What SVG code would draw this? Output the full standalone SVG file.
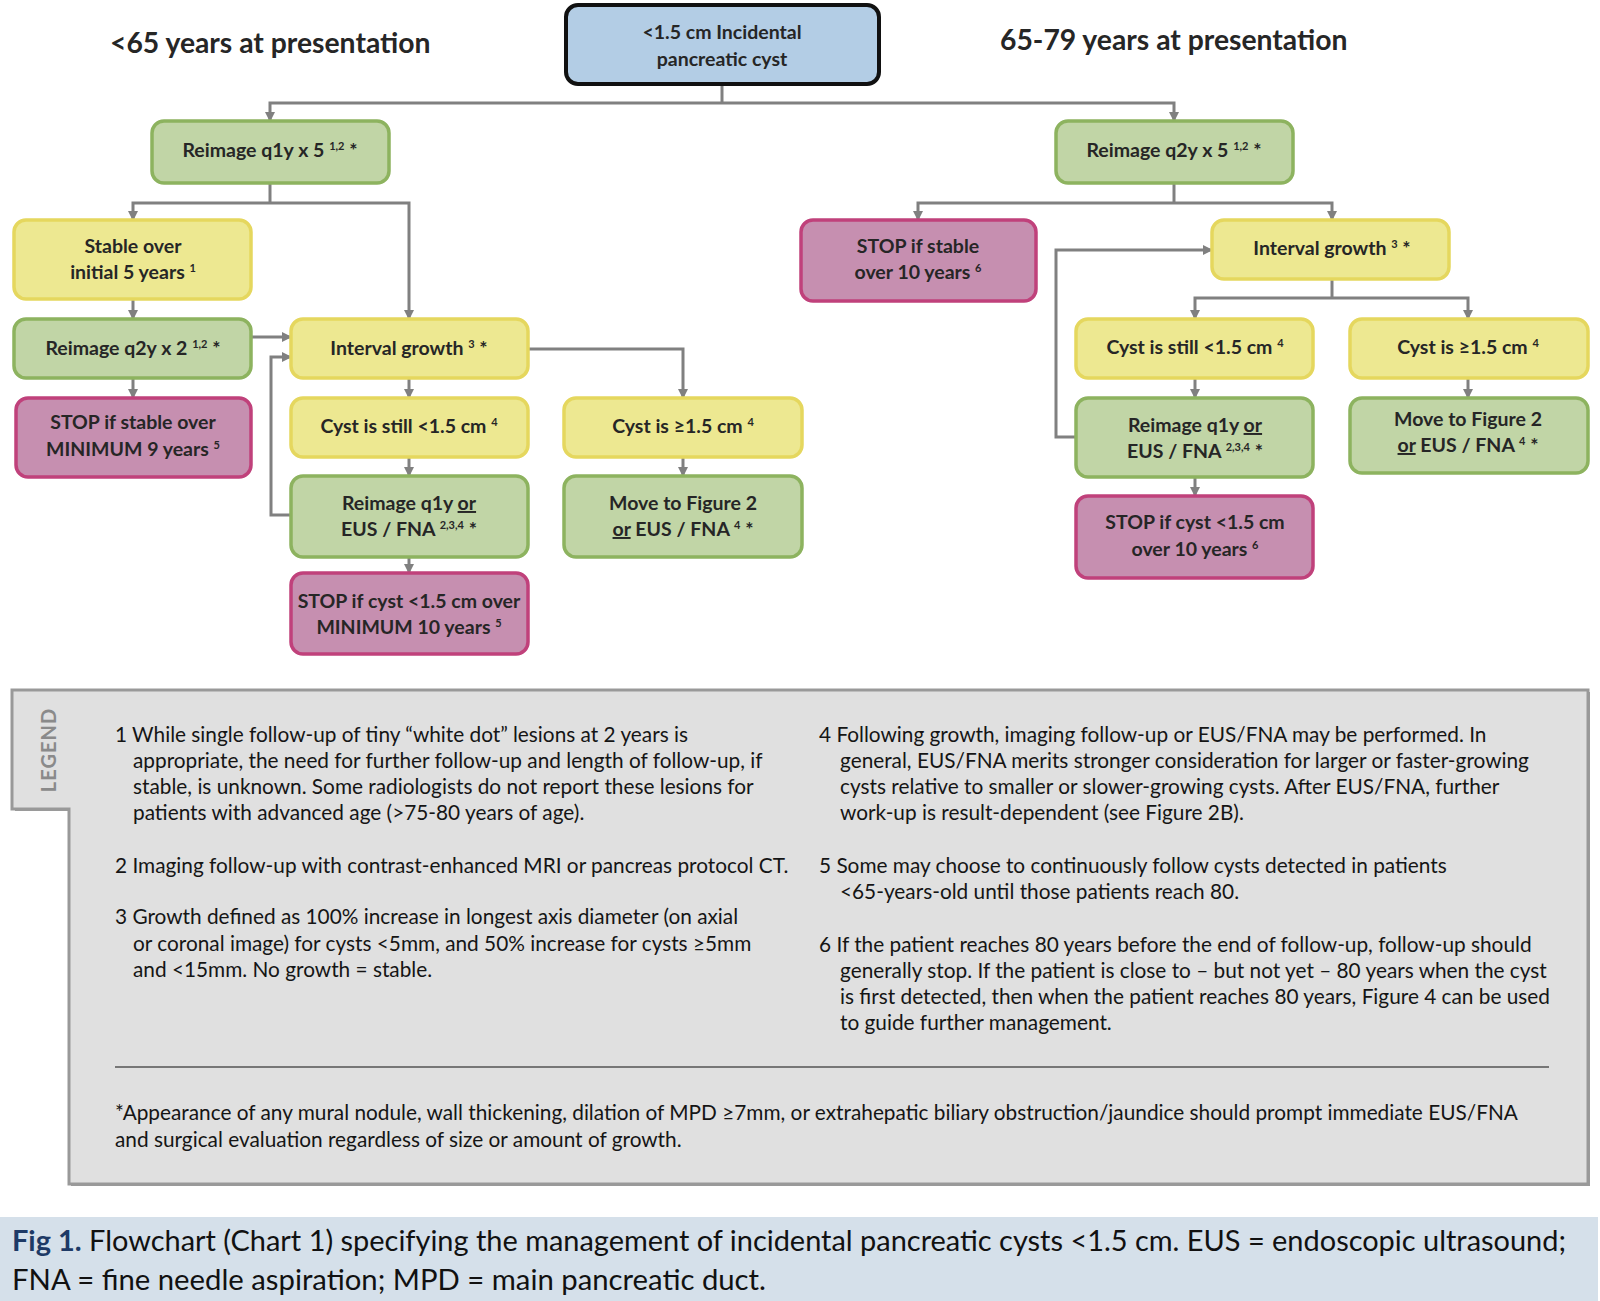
<svg xmlns="http://www.w3.org/2000/svg" width="1600" height="1301" viewBox="0 0 1600 1301">
<defs>
<marker id="arr" viewBox="0 0 10 10" refX="9" refY="5" markerWidth="10" markerHeight="10" markerUnits="userSpaceOnUse" orient="auto">
<path d="M0,0 L10,5 L0,10 z" fill="#808080"/>
</marker>
<style>
.n text{font-family:Lato,"Liberation Sans",sans-serif;font-weight:bold;font-size:19.5px;fill:#262626;text-anchor:middle}
.g rect{fill:#c1d5a6;stroke:#8db35f;stroke-width:3.5}
.y rect{fill:#ede891;stroke:#e5d75e;stroke-width:3.5}
.p rect{fill:#c68fb0;stroke:#c0417b;stroke-width:3.5}
.b rect{fill:#b3cde5;stroke:#111;stroke-width:4}
.sup{font-size:11px}
.title{font-family:Lato,"Liberation Sans",sans-serif;font-weight:bold;font-size:28.3px;fill:#262626}
.c path{fill:none;stroke:#808080;stroke-width:3}
.lg{font-family:Lato,"Liberation Sans",sans-serif;font-size:20.8px;fill:#151515}
.cap{font-family:Lato,"Liberation Sans",sans-serif;font-size:29px;fill:#111}
</style>
</defs>
<rect width="1600" height="1301" fill="#fff"/>

<text class="title" x="110" y="53">&lt;65 years at presentation</text>
<text class="title" x="1000" y="50">65-79 years at presentation</text>

<g class="c" id="connectors">
<path d="M722,84 V103"/>
<path d="M722,103 H270 V121" marker-end="url(#arr)"/>
<path d="M722,103 H1174 V121" marker-end="url(#arr)"/>
<path d="M270,183 V203"/>
<path d="M270,203 H133 V220" marker-end="url(#arr)"/>
<path d="M270,203 H409 V319" marker-end="url(#arr)"/>
<path d="M133,299 V319" marker-end="url(#arr)"/>
<path d="M133,378 V398" marker-end="url(#arr)"/>
<path d="M251,337 H291" marker-end="url(#arr)"/>
<path d="M291,515 H271 V357 H291" marker-end="url(#arr)"/>
<path d="M528,349 H683 V398" marker-end="url(#arr)"/>
<path d="M409,378 V398" marker-end="url(#arr)"/>
<path d="M409,457 V476" marker-end="url(#arr)"/>
<path d="M409,557 V573" marker-end="url(#arr)"/>
<path d="M683,457 V476" marker-end="url(#arr)"/>
<path d="M1174,183 V203"/>
<path d="M1174,203 H918 V220" marker-end="url(#arr)"/>
<path d="M1174,203 H1332 V220" marker-end="url(#arr)"/>
<path d="M1332,279 V298"/>
<path d="M1332,298 H1195 V319" marker-end="url(#arr)"/>
<path d="M1332,298 H1468 V319" marker-end="url(#arr)"/>
<path d="M1195,378 V398" marker-end="url(#arr)"/>
<path d="M1195,477 V496" marker-end="url(#arr)"/>
<path d="M1468,378 V398" marker-end="url(#arr)"/>
<path d="M1076,437 H1056 V250 H1212" marker-end="url(#arr)"/>
</g>

<g id="start" class="n b">
<rect x="566" y="5" width="313" height="79" rx="12"/>
<text x="722" y="39">&lt;1.5 cm Incidental</text>
<text x="722" y="66">pancreatic cyst</text>
</g>

<g id="reimage-q1y-x5" class="n g">
<rect x="152" y="121" width="237" height="62" rx="12"/>
<text x="270" y="157">Reimage q1y x 5 <tspan class="sup" dy="-7">1,2</tspan><tspan dy="7"> *</tspan></text>
</g>
<g id="reimage-q2y-x5" class="n g">
<rect x="1056" y="121" width="237" height="62" rx="12"/>
<text x="1174" y="157">Reimage q2y x 5 <tspan class="sup" dy="-7">1,2</tspan><tspan dy="7"> *</tspan></text>
</g>

<g id="stable-5y" class="n y">
<rect x="14" y="220" width="237" height="79" rx="12"/>
<text x="133" y="253">Stable over</text>
<text x="133" y="279">initial 5 years <tspan class="sup" dy="-7">1</tspan></text>
</g>
<g id="reimage-q2y-x2" class="n g">
<rect x="14" y="319" width="237" height="59" rx="12"/>
<text x="133" y="355">Reimage q2y x 2 <tspan class="sup" dy="-7">1,2</tspan><tspan dy="7"> *</tspan></text>
</g>
<g id="stop-9y" class="n p">
<rect x="16" y="398" width="235" height="79" rx="12"/>
<text x="133" y="429">STOP if stable over</text>
<text x="133" y="456">MINIMUM 9 years <tspan class="sup" dy="-7">5</tspan></text>
</g>
<g id="growth-left" class="n y">
<rect x="291" y="319" width="237" height="59" rx="12"/>
<text x="409" y="355">Interval growth <tspan class="sup" dy="-7">3</tspan><tspan dy="7"> *</tspan></text>
</g>
<g id="still-left" class="n y">
<rect x="291" y="398" width="237" height="59" rx="12"/>
<text x="409" y="433">Cyst is still &lt;1.5 cm <tspan class="sup" dy="-7">4</tspan></text>
</g>
<g id="ge-left" class="n y">
<rect x="564" y="398" width="238" height="59" rx="12"/>
<text x="683" y="433">Cyst is ≥1.5 cm <tspan class="sup" dy="-7">4</tspan></text>
</g>
<g id="reimage-eus-left" class="n g">
<rect x="291" y="476" width="237" height="81" rx="12"/>
<text x="409" y="510">Reimage q1y <tspan text-decoration="underline">or</tspan></text>
<text x="409" y="536">EUS / FNA <tspan class="sup" dy="-7">2,3,4</tspan><tspan dy="7"> *</tspan></text>
</g>
<g id="move-left" class="n g">
<rect x="564" y="476" width="238" height="81" rx="12"/>
<text x="683" y="510">Move to Figure 2</text>
<text x="683" y="536"><tspan text-decoration="underline">or</tspan> EUS / FNA <tspan class="sup" dy="-7">4</tspan><tspan dy="7"> *</tspan></text>
</g>
<g id="stop-10y-left" class="n p">
<rect x="291" y="573" width="237" height="81" rx="12"/>
<text x="409" y="608">STOP if cyst &lt;1.5 cm over</text>
<text x="409" y="634">MINIMUM 10 years <tspan class="sup" dy="-7">5</tspan></text>
</g>

<g id="stop-stable-right" class="n p">
<rect x="801" y="220" width="235" height="81" rx="12"/>
<text x="918" y="253">STOP if stable</text>
<text x="918" y="279">over 10 years <tspan class="sup" dy="-7">6</tspan></text>
</g>
<g id="growth-right" class="n y">
<rect x="1212" y="220" width="237" height="59" rx="12"/>
<text x="1332" y="255">Interval growth <tspan class="sup" dy="-7">3</tspan><tspan dy="7"> *</tspan></text>
</g>
<g id="still-right" class="n y">
<rect x="1076" y="319" width="237" height="59" rx="12"/>
<text x="1195" y="354">Cyst is still &lt;1.5 cm <tspan class="sup" dy="-7">4</tspan></text>
</g>
<g id="ge-right" class="n y">
<rect x="1350" y="319" width="238" height="59" rx="12"/>
<text x="1468" y="354">Cyst is ≥1.5 cm <tspan class="sup" dy="-7">4</tspan></text>
</g>
<g id="reimage-eus-right" class="n g">
<rect x="1076" y="398" width="237" height="79" rx="12"/>
<text x="1195" y="432">Reimage q1y <tspan text-decoration="underline">or</tspan></text>
<text x="1195" y="458">EUS / FNA <tspan class="sup" dy="-7">2,3,4</tspan><tspan dy="7"> *</tspan></text>
</g>
<g id="move-right" class="n g">
<rect x="1350" y="398" width="238" height="75" rx="12"/>
<text x="1468" y="426">Move to Figure 2</text>
<text x="1468" y="452"><tspan text-decoration="underline">or</tspan> EUS / FNA <tspan class="sup" dy="-7">4</tspan><tspan dy="7"> *</tspan></text>
</g>
<g id="stop-10y-right" class="n p">
<rect x="1076" y="496" width="237" height="82" rx="12"/>
<text x="1195" y="529">STOP if cyst &lt;1.5 cm</text>
<text x="1195" y="556">over 10 years <tspan class="sup" dy="-7">6</tspan></text>
</g>

<g id="legend">
<path d="M15,692 H1590 V1186 H71 V811 H15 Z" fill="#9a9a9a"/>
<path d="M12,690 H1588 V1184 H69 V809 H12 Z" fill="#e0e0e0" stroke="#999" stroke-width="3"/>
<text x="56" y="750" transform="rotate(-90 56 750)" text-anchor="middle" font-family="Lato,'Liberation Sans',sans-serif" font-size="20" font-weight="bold" fill="#8a8a8a" letter-spacing="1">LEGEND</text>
<text class="lg" x="115" y="742">1 While single follow-up of tiny “white dot” lesions at 2 years is</text>
<text class="lg" x="133" y="768">appropriate, the need for further follow-up and length of follow-up, if</text>
<text class="lg" x="133" y="794">stable, is unknown.  Some radiologists do not report these lesions for</text>
<text class="lg" x="133" y="820">patients with advanced age (&gt;75-80 years of age).</text>
<text class="lg" x="115" y="873">2 Imaging follow-up with contrast-enhanced MRI or pancreas protocol CT.</text>
<text class="lg" x="115" y="924">3 Growth defined as 100% increase in longest axis diameter (on axial</text>
<text class="lg" x="133" y="951">or coronal image) for cysts &lt;5mm, and 50% increase for cysts ≥5mm</text>
<text class="lg" x="133" y="977">and &lt;15mm.  No growth = stable.</text>
<text class="lg" x="819" y="742">4 Following growth, imaging follow-up or EUS/FNA may be performed.  In</text>
<text class="lg" x="840" y="768">general, EUS/FNA merits stronger consideration for larger or faster-growing</text>
<text class="lg" x="840" y="794">cysts relative to smaller or slower-growing cysts.  After EUS/FNA, further</text>
<text class="lg" x="840" y="820">work-up is result-dependent (see Figure 2B).</text>
<text class="lg" x="819" y="873">5 Some may choose to continuously follow cysts detected in patients</text>
<text class="lg" x="840" y="899">&lt;65-years-old until those patients reach 80.</text>
<text class="lg" x="819" y="952">6 If the patient reaches 80 years before the end of follow-up, follow-up should</text>
<text class="lg" x="840" y="978">generally stop. If the patient is close to – but not yet – 80 years when the cyst</text>
<text class="lg" x="840" y="1004">is first detected, then when the patient reaches 80 years, Figure 4 can be used</text>
<text class="lg" x="840" y="1030">to guide further management.</text>
<path d="M115,1067 H1549" stroke="#777" stroke-width="2"/>
<text class="lg" x="115" y="1120">*Appearance of any mural nodule, wall thickening, dilation of MPD ≥7mm, or extrahepatic biliary obstruction/jaundice should prompt immediate EUS/FNA</text>
<text class="lg" x="115" y="1147">and surgical evaluation regardless of size or amount of growth.</text>
</g>

<g id="caption">
<rect x="0" y="1217" width="1598" height="84" fill="#d5e0ea"/>
<text class="cap" x="12" y="1251" textLength="1554" lengthAdjust="spacingAndGlyphs"><tspan font-weight="bold" fill="#1e3a66">Fig 1.</tspan> Flowchart (Chart 1) specifying the management of incidental pancreatic cysts &lt;1.5 cm. EUS = endoscopic ultrasound;</text>
<text class="cap" x="12" y="1290" textLength="754" lengthAdjust="spacingAndGlyphs">FNA = fine needle aspiration; MPD = main pancreatic duct.</text>
</g>
</svg>
